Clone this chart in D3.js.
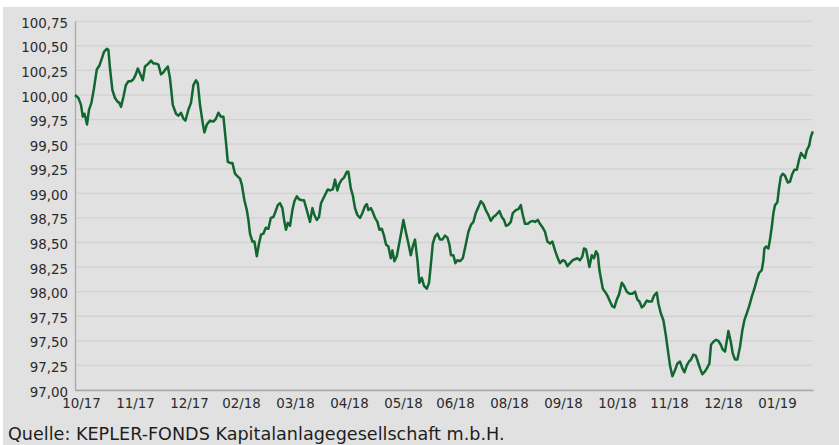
<!DOCTYPE html>
<html>
<head>
<meta charset="UTF-8" />
<title>Kepler Fonds</title>
<script src="https://d3js.org/d3.v7.min.js"></script>
<style>
body {
	margin: 0;
	background: #fff;
}

.tick text {
	font-family: "DejaVu Sans", Verdana, sans-serif;
	font-size: 13.4px;
	fill: #2b2b2b;
}

.caption {
	font-family: "DejaVu Sans", Verdana, sans-serif;
	font-size: 17.6px;
	fill: #1e1e1e;
}
</style>
</head>
<body>
<div id="chart"></div>
<script>
// trading-day position along the time axis
var days = [0, 1.7, 3, 3.9, 4.7, 5.4, 6, 7, 8.2, 9.5, 10.9, 12.2, 13.4, 14.5, 15.9, 16.7, 17.5, 18.7, 20, 21.4,
    22.2, 23, 24.2, 25.4, 26.7, 28, 29.2, 30.4, 31.4, 32.5, 33.9, 35, 36.7, 38, 39.2, 40.5, 41.7, 43, 44.2, 45.5,
    46.4, 47.5, 48.9, 50.5, 51.7, 53, 54.2, 55.2, 56.7, 58, 59.2, 60.5, 61.4, 62.5, 63.9, 64.7, 65.9, 67.5, 69.2, 70.5,
    71.7, 72.9, 74.2, 75.4, 76.4, 77.5, 78.7, 80, 81.4, 82.5, 83.4, 84.7, 85.9, 86.7, 87.5, 88.7, 89.7, 90.9, 92, 93,
    94.2, 95.4, 96.7, 97.9, 99.2, 100, 101.4, 102.5, 103.7, 104.7, 105.5, 106.4, 107.5, 108.7, 109.7, 110.9, 112, 113.4, 114.5, 115.9,
    117.5, 118.7, 119.7, 120.9, 122, 123, 124.2, 125.4, 126.4, 127.5, 128.9, 130, 131.2, 132.2, 133.4, 134.5, 135.9, 136.7, 137.9, 138.9,
    140, 141.2, 142.5, 143.7, 145, 145.9, 146.7, 147.9, 148.9, 150, 151.2, 152.2, 153.4, 154.5, 155.5, 156.7, 157.9, 158.7, 159.7, 160.9,
    162, 163.2, 164.2, 165.4, 166.7, 167.9, 168.9, 170, 171.2, 172.2, 173.4, 174.5, 175.9, 177, 178, 178.9, 180, 181.2, 182.5, 183.7,
    185, 186.2, 187.2, 188, 189.2, 190.2, 191.2, 192.5, 193.9, 195.5, 196.7, 198, 199.2, 200.4, 201.7, 202.9, 204.2, 205.4, 206.7, 207.9,
    209.2, 210.5, 212.2, 213.4, 214.5, 215.5, 216.7, 217.9, 218.9, 220.4, 221.7, 222.9, 223.9, 225, 226.4, 227.5, 228.9, 230, 231.4, 232.5,
    233.9, 235, 236.2, 237.5, 238.7, 240, 241.4, 242.5, 243.9, 245, 246.2, 247.5, 248.9, 250, 251.2, 252.5, 253.7, 254.5, 255.5, 256.4,
    257.2, 258.4, 259.5, 260.5, 261.4, 262.2, 263.9, 265, 266.2, 267.5, 268.7, 269.7, 270.9, 272, 273.4, 274.5, 275.9, 277.2, 278.7, 280,
    281.2, 282.2, 283.4, 284.5, 285.9, 287, 288.4, 289.5, 290.9, 291.7, 292.9, 294.2, 295.4, 296.4, 297.5, 298.7, 300, 301.2, 302.5, 303.7,
    304.7, 305.9, 307, 308, 309.2, 310.4, 311.4, 312.5, 313.7, 315, 316.2, 317.2, 318, 319.2, 320.5, 321.7, 322.9, 323.9, 325, 326.7,
    327.9, 328.9, 330, 331.2, 332.5, 333.7, 334.7, 335.9, 337.2, 338.4, 339.7, 340.9, 342, 343.4, 344.2, 344.7, 345.5, 346.7, 347.5, 348.4,
    349.2, 350, 351.2, 352, 352.9, 353.9, 355, 356.4, 357.5, 358.7, 359.7, 360.9, 362, 363, 364.2, 365, 365.9, 367, 368, 368.9];

// fund price
var prices = [100.00, 99.97, 99.90, 99.78, 99.81, 99.76, 99.70, 99.85, 99.92, 100.07, 100.26, 100.30, 100.37, 100.44, 100.47, 100.46, 100.27, 100.05, 99.97, 99.93,
    99.92, 99.88, 99.98, 100.10, 100.14, 100.14, 100.16, 100.21, 100.27, 100.22, 100.15, 100.29, 100.32, 100.35, 100.32, 100.32, 100.31, 100.21, 100.23, 100.27,
    100.29, 100.17, 99.90, 99.81, 99.79, 99.82, 99.76, 99.74, 99.85, 99.92, 100.10, 100.15, 100.12, 99.90, 99.71, 99.62, 99.70, 99.74, 99.73, 99.76,
    99.82, 99.78, 99.78, 99.54, 99.32, 99.31, 99.31, 99.20, 99.17, 99.15, 99.09, 98.93, 98.83, 98.73, 98.59, 98.51, 98.51, 98.36, 98.49, 98.58,
    98.59, 98.65, 98.64, 98.75, 98.76, 98.80, 98.88, 98.90, 98.85, 98.71, 98.63, 98.70, 98.67, 98.83, 98.92, 98.97, 98.94, 98.93, 98.93, 98.83,
    98.71, 98.85, 98.78, 98.73, 98.76, 98.90, 98.95, 99.00, 99.04, 99.03, 99.04, 99.14, 99.03, 99.10, 99.14, 99.16, 99.22, 99.22, 99.05, 98.98,
    98.85, 98.78, 98.75, 98.80, 98.87, 98.89, 98.83, 98.85, 98.81, 98.75, 98.71, 98.63, 98.64, 98.57, 98.48, 98.46, 98.34, 98.42, 98.31, 98.36,
    98.48, 98.61, 98.73, 98.61, 98.49, 98.37, 98.46, 98.53, 98.32, 98.09, 98.14, 98.06, 98.03, 98.09, 98.29, 98.49, 98.56, 98.59, 98.53, 98.53,
    98.57, 98.55, 98.48, 98.37, 98.37, 98.29, 98.32, 98.31, 98.34, 98.49, 98.61, 98.68, 98.71, 98.80, 98.86, 98.92, 98.89, 98.83, 98.78, 98.72,
    98.76, 98.78, 98.82, 98.76, 98.73, 98.67, 98.68, 98.71, 98.80, 98.83, 98.84, 98.88, 98.78, 98.69, 98.69, 98.71, 98.72, 98.71, 98.73, 98.69,
    98.65, 98.61, 98.51, 98.49, 98.51, 98.42, 98.34, 98.29, 98.32, 98.31, 98.26, 98.29, 98.32, 98.33, 98.34, 98.32, 98.36, 98.44, 98.43, 98.34,
    98.25, 98.37, 98.34, 98.41, 98.38, 98.22, 98.03, 98.00, 97.96, 97.90, 97.85, 97.84, 97.92, 97.97, 98.09, 98.06, 98.00, 97.98, 97.98, 98.00,
    97.92, 97.90, 97.84, 97.86, 97.91, 97.90, 97.90, 97.96, 97.99, 97.88, 97.78, 97.71, 97.56, 97.41, 97.25, 97.14, 97.20, 97.27, 97.29, 97.22,
    97.18, 97.25, 97.29, 97.31, 97.36, 97.35, 97.29, 97.22, 97.16, 97.19, 97.23, 97.27, 97.46, 97.49, 97.51, 97.50, 97.46, 97.41, 97.39, 97.60,
    97.49, 97.37, 97.31, 97.31, 97.44, 97.61, 97.71, 97.78, 97.86, 97.95, 98.03, 98.12, 98.19, 98.22, 98.32, 98.44, 98.46, 98.44, 98.53, 98.66,
    98.80, 98.88, 98.91, 99.05, 99.17, 99.20, 99.18, 99.11, 99.12, 99.20, 99.24, 99.24, 99.34, 99.41, 99.38, 99.36, 99.44, 99.48, 99.58, 99.63];

var tickDays = [3, 30, 57, 83, 110, 137, 164, 190, 217, 244, 271, 297, 324, 351];
var tickLabels = ['10/17', '11/17', '12/17', '02/18', '03/18', '04/18', '05/18', '06/18', '08/18', '09/18', '10/18', '11/18', '12/18', '01/19'];
var yTicks = [97, 97.25, 97.5, 97.75, 98, 98.25, 98.5, 98.75, 99, 99.25, 99.5, 99.75, 100, 100.25, 100.5, 100.75];

var width = 839;
var height = 445;
var margin = {top: 21.3, right: 26, bottom: 55, left: 75};
var innerW = width - margin.left - margin.right;
var innerH = height - margin.top - margin.bottom;

var de = d3.formatLocale({decimal: ',', thousands: '.', grouping: [3], currency: ['', ' €']});
var fmt = de.format('.2f');

var svg = d3.select('#chart')
    .append('svg')
    .attr('width', width)
    .attr('height', height);

// grey panel
svg.append('rect')
    .attr('x', 3)
    .attr('y', 7)
    .attr('width', width - 3)
    .attr('height', height - 7)
    .attr('fill', '#e1e1e1');

var g = svg.append('g')
    .attr('transform', 'translate(' + margin.left + ',' + margin.top + ')');

var x = d3.scaleLinear().domain([0, 369]).range([0, innerW]);
var y = d3.scaleLinear().domain([97, 100.75]).range([innerH, 0]);

// gridlines
g.append('g')
    .selectAll('line')
    .data(yTicks)
    .enter()
    .append('line')
    .attr('x1', 0)
    .attr('x2', innerW)
    .attr('y1', function(d) { return y(d); })
    .attr('y2', function(d) { return y(d); })
    .attr('stroke', '#d2d2d2')
    .attr('stroke-width', 1.3);

var yAxis = g.append('g')
    .call(d3.axisLeft(y).tickValues(yTicks).tickFormat(fmt).tickSize(0).tickPadding(7));
yAxis.select('.domain').attr('stroke', '#a8a8a8').attr('stroke-width', 1.3);
yAxis.selectAll('.tick text').attr('dy', '0.45em');

var xAxis = g.append('g')
    .attr('transform', 'translate(0,' + innerH + ')')
    .call(d3.axisBottom(x).tickValues(tickDays)
        .tickFormat(function(d, i) { return tickLabels[i]; })
        .tickSize(0).tickPadding(8));
xAxis.select('.domain').attr('stroke', '#a8a8a8').attr('stroke-width', 1.3);

var line = d3.line()
    .x(function(d, i) { return x(days[i]); })
    .y(function(d) { return y(d); });

g.append('path')
    .datum(prices)
    .attr('d', line)
    .attr('fill', 'none')
    .attr('stroke', '#11672f')
    .attr('stroke-width', 2.5)
    .attr('stroke-linejoin', 'round');

svg.append('text')
    .attr('class', 'caption')
    .attr('x', 8)
    .attr('y', 440)
    .text('Quelle: KEPLER-FONDS Kapitalanlagegesellschaft m.b.H.');
</script>
</body>
</html>
